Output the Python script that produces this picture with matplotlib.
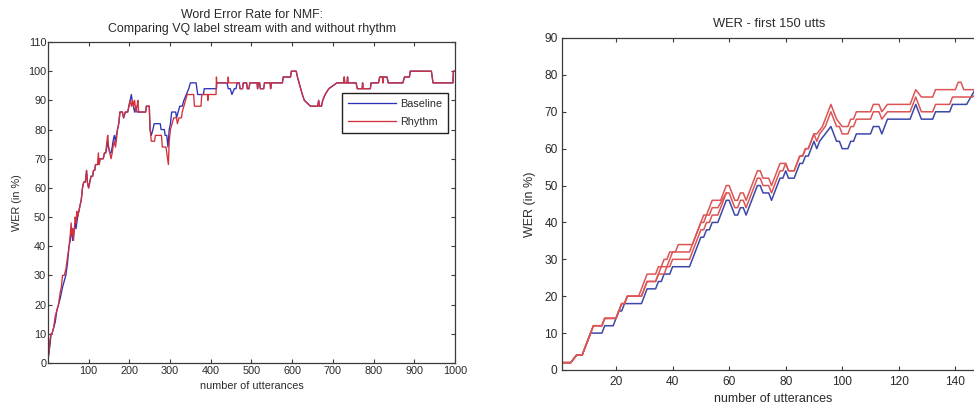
import matplotlib
matplotlib.use("Agg")
import matplotlib.pyplot as plt

plt.rcParams['font.family'] = ['Liberation Sans', 'DejaVu Sans']

# ---------------- Left panel: WER over 1000 utterances ----------------
baseline_x = [1, 3, 5, 8, 10, 14, 18, 22, 26, 30, 33, 36, 40, 44, 48, 52, 55, 57, 59, 61,
              63, 65, 67, 69, 71, 73, 76, 79, 82, 85, 88, 92, 95, 97, 100, 103, 106, 110, 112, 115,
              117, 122, 124, 126, 128, 136, 139, 142, 145, 147, 149, 152, 155, 158, 160, 163, 166, 168, 171, 174,
              177, 183, 186, 190, 196, 199, 202, 205, 207, 210, 213, 216, 219, 240, 242, 249, 251, 254, 258, 261,
              276, 278, 286, 288, 292, 295, 298, 301, 304, 314, 316, 320, 324, 330, 334, 340, 346, 350, 364, 366,
              368, 382, 384, 414, 415, 440, 443, 448, 452, 458, 462, 465]
baseline_y = [2, 4, 6, 10, 10, 12, 14, 18, 20, 22, 24, 26, 28, 30, 34, 40, 42, 46, 44, 42,
              44, 46, 48, 46, 48, 50, 52, 54, 56, 60, 62, 62, 66, 62, 60, 62, 64, 64, 66, 66,
              68, 68, 70, 68, 70, 70, 72, 72, 74, 76, 74, 72, 72, 74, 76, 78, 76, 78, 80, 82,
              86, 86, 84, 86, 86, 88, 90, 92, 90, 88, 86, 88, 86, 86, 88, 88, 80, 78, 80, 82,
              82, 80, 80, 78, 78, 74, 80, 82, 86, 86, 84, 86, 88, 88, 90, 92, 94, 96, 96, 94,
              92, 92, 94, 94, 96, 96, 94, 94, 92, 94, 94, 96]

rhythm_x = [1, 3, 5, 8, 10, 14, 18, 22, 26, 30, 33, 36, 40, 44, 48, 52, 55, 57, 59, 61,
            63, 65, 67, 69, 71, 73, 76, 79, 82, 85, 88, 92, 95, 97, 100, 103, 106, 110, 112, 115,
            117, 122, 124, 126, 128, 136, 139, 142, 145, 147, 149, 152, 155, 158, 160, 163, 166, 168, 171, 174,
            177, 183, 186, 190, 196, 199, 202, 205, 208, 210, 213, 216, 219, 221, 223, 240, 242, 249, 251, 254,
            262, 264, 279, 281, 290, 292, 294, 296, 298, 301, 305, 309, 316, 318, 322, 328, 330, 334, 338, 342,
            358, 360, 376, 378, 392, 393, 394, 413, 414, 415, 442, 443, 444, 465]
rhythm_y = [2, 4, 8, 10, 10, 12, 16, 18, 20, 24, 26, 30, 30, 32, 36, 40, 44, 48, 44, 46,
            42, 46, 50, 48, 52, 50, 52, 54, 56, 60, 62, 62, 66, 62, 60, 62, 64, 64, 66, 66,
            68, 68, 72, 68, 70, 70, 72, 72, 76, 78, 74, 72, 70, 72, 74, 76, 74, 76, 80, 82,
            86, 86, 84, 86, 86, 88, 90, 88, 90, 88, 90, 86, 88, 90, 86, 86, 88, 88, 80, 76,
            76, 78, 78, 74, 74, 72, 70, 68, 76, 80, 82, 84, 84, 82, 84, 84, 86, 88, 90, 92,
            92, 88, 88, 92, 92, 90, 92, 92, 98, 96, 96, 98, 96, 96]

# Both systems give the same WER from about utterance 470 onwards
common_x = [470, 472, 478, 480, 488, 490, 494, 496, 514, 515, 517, 520, 522, 530, 532, 546, 547, 549, 576, 578,
            596, 598, 610, 613, 617, 621, 625, 630, 645, 663, 665, 667, 672, 675, 681, 690, 710, 727, 728, 729,
            735, 736, 737, 757, 760, 772, 773, 774, 792, 794, 812, 815, 822, 823, 824, 833, 836, 872, 876, 888,
            890, 942, 946, 995, 996, 1000]
common_y = [96, 94, 94, 96, 96, 94, 94, 96, 96, 94, 96, 96, 94, 94, 96, 96, 94, 96, 96, 98,
            98, 100, 100, 98, 96, 94, 92, 90, 88, 88, 90, 88, 88, 90, 92, 94, 96, 96, 98, 96,
            96, 98, 96, 96, 94, 94, 96, 94, 94, 96, 96, 98, 98, 96, 98, 98, 96, 96, 98, 98,
            100, 100, 96, 96, 100, 100]

left_xticks = [100, 200, 300, 400, 500, 600, 700, 800, 900, 1000]
left_yticks = [0, 10, 20, 30, 40, 50, 60, 70, 80, 90, 100, 110]

# ---------------- Right panel: WER over the first 150 utterances ----------------
first_blue_x = [1, 4, 6, 8, 11, 15, 16, 19, 21, 22, 23, 29, 31, 34, 35, 36, 37, 39, 40, 46,
                50, 51, 52, 53, 54, 56, 59, 60, 62, 63, 64, 65, 66, 70, 71, 72, 74, 75, 78, 79,
                80, 81, 83, 85, 86, 87, 88, 89, 90, 91, 92, 94, 96, 98, 99, 100, 102, 103, 104, 105,
                110, 111, 113, 114, 116, 124, 126, 128, 132, 133, 138, 139, 144, 147, 150]
first_blue_y = [2, 2, 4, 4, 10, 10, 12, 12, 16, 16, 18, 18, 22, 22, 24, 24, 26, 26, 28, 28,
                36, 36, 38, 38, 40, 40, 46, 46, 42, 42, 44, 44, 42, 50, 50, 48, 48, 46, 52, 52,
                54, 52, 52, 56, 56, 58, 58, 60, 62, 60, 62, 64, 66, 62, 62, 60, 60, 62, 62, 64,
                64, 66, 66, 64, 68, 68, 72, 68, 68, 70, 70, 72, 72, 76, 78]

first_red1_x = [1, 4, 6, 8, 12, 15, 16, 20, 22, 23, 24, 29, 31, 34, 35, 37, 38, 39, 40, 46,
                50, 51, 52, 53, 54, 56, 59]
first_red1_y = [2, 2, 4, 4, 12, 12, 14, 14, 18, 18, 20, 20, 24, 24, 26, 26, 28, 28, 30, 30,
                38, 38, 40, 40, 42, 42, 48]

first_red2_x = [1, 4, 6, 8, 12, 15, 16, 20, 22, 23, 24, 29, 31, 34, 36, 38, 39, 40, 46, 50,
                51, 52, 53, 54, 56, 59, 60, 62, 63, 64, 65, 66, 70, 71, 72, 74, 75, 78, 79, 80,
                81, 83, 85, 86, 87, 88, 89, 90, 91, 92, 94, 96, 98, 99, 100, 102, 103, 104, 105, 110,
                111, 113, 114, 116, 124, 126, 128, 132, 133, 138, 139, 146, 150]
first_red2_y = [2, 2, 4, 4, 12, 12, 14, 14, 18, 18, 20, 20, 24, 24, 28, 28, 30, 32, 32, 40,
                40, 42, 42, 44, 44, 48, 48, 44, 44, 46, 46, 44, 52, 52, 50, 50, 48, 54, 54, 56,
                54, 54, 58, 58, 60, 60, 62, 64, 62, 64, 66, 70, 66, 66, 64, 64, 66, 66, 68, 68,
                70, 70, 68, 70, 70, 74, 70, 70, 72, 72, 74, 74, 76]

first_red3_x = [1, 4, 6, 8, 12, 15, 16, 20, 22, 23, 24, 28, 31, 34, 35, 36, 37, 38, 39, 41,
                42, 47, 50, 51, 52, 53, 54, 57, 59, 60, 62, 63, 64, 65, 66, 70, 71, 72, 74, 75,
                78, 80, 81, 83, 85, 86, 87, 88, 89, 90, 91, 93, 94, 96, 98, 100, 102, 103, 104, 105,
                110, 111, 113, 114, 116, 124, 126, 128, 132, 133, 140, 141, 142, 143, 150]
first_red3_y = [2, 2, 4, 4, 12, 12, 14, 14, 18, 18, 20, 20, 26, 26, 28, 28, 30, 30, 32, 32,
                34, 34, 40, 42, 42, 44, 46, 46, 50, 50, 46, 46, 48, 48, 46, 54, 54, 52, 52, 50,
                56, 56, 54, 54, 58, 58, 60, 60, 62, 64, 64, 66, 68, 72, 68, 66, 66, 68, 68, 70,
                70, 72, 72, 70, 72, 72, 76, 74, 74, 76, 76, 78, 78, 76, 76]

right_xticks = [20, 40, 60, 80, 100, 120, 140]
right_yticks = [0, 10, 20, 30, 40, 50, 60, 70, 80, 90]

BLUE = '#2c33b8'
RED = '#d2303a'
BLUE2 = '#3c47a8'
RED2 = '#dc5454'
FRAME = '#3a3a3a'
TEXT = '#2a2a2a'

W, H = 974, 405
fig = plt.figure(figsize=(W / 100, H / 100), dpi=100)


def px_axes(left, top, right, bottom):
    return fig.add_axes([left / W, 1 - bottom / H, (right - left) / W, (bottom - top) / H])


def style(ax, size, pad_x, pad_y):
    for sp in ax.spines.values():
        sp.set_color(FRAME)
        sp.set_linewidth(0.9)
    ax.tick_params(direction='in', length=3, width=0.8, color=FRAME,
                   top=True, right=True, labelsize=size, labelcolor=TEXT)
    ax.tick_params(axis='x', pad=pad_x)
    ax.tick_params(axis='y', pad=pad_y)


# Left panel
axL = px_axes(48.3, 42, 455, 363)
axL.plot(baseline_x + common_x, baseline_y + common_y, color=BLUE, lw=0.95, label='Baseline')
axL.plot(rhythm_x + common_x, rhythm_y + common_y, color=RED, lw=0.95, label='Rhythm')
axL.set_xlim(1, 1000)
axL.set_ylim(0, 110)
axL.set_xticks(left_xticks)
axL.set_yticks(left_yticks)
style(axL, 7.8, 2.4, 1.5)
axL.set_xlabel('number of utterances', fontsize=7.8, color=TEXT)
axL.xaxis.set_label_coords(0.5, -0.056)
axL.set_ylabel('WER (in %)', fontsize=7.8, color=TEXT)
axL.yaxis.set_label_coords(-0.064, 0.5)
leg = axL.legend(loc='upper right', bbox_to_anchor=(0.983, 0.841), fontsize=7.8,
                 fancybox=False, framealpha=1, edgecolor='#222222', borderaxespad=0,
                 handlelength=4.4, borderpad=0.55, labelspacing=0.75, handletextpad=0.4)
leg.get_frame().set_linewidth(1.0)
for t in leg.get_texts():
    t.set_color(TEXT)
fig.text(251.7 / W, 1 - 15 / H, 'Word Error Rate for NMF:', ha='center', va='center',
         fontsize=8.9, color=TEXT)
fig.text(251.7 / W, 1 - 29 / H, 'Comparing VQ label stream with and without rhythm',
         ha='center', va='center', fontsize=8.9, color=TEXT)

# Right panel (runs past the right edge of the figure)
axR = px_axes(562.3, 38, 983.6, 370)
axR.plot(first_blue_x, first_blue_y, color=BLUE2, lw=1.1)
axR.plot(first_red1_x, first_red1_y, color=RED2, lw=1.1)
axR.plot(first_red2_x, first_red2_y, color=RED2, lw=1.1)
axR.plot(first_red3_x, first_red3_y, color=RED2, lw=1.1)
axR.set_xlim(1, 150)
axR.set_ylim(0, 90)
axR.set_xticks(right_xticks)
axR.set_yticks(right_yticks)
style(axR, 8.6, 4.0, 3.4)
axR.set_xlabel('number of utterances', fontsize=9, color=TEXT)
axR.xaxis.set_label_coords(0.5, -0.069)
axR.set_ylabel('WER (in %)', fontsize=9, color=TEXT)
axR.yaxis.set_label_coords(-0.062, 0.5)
fig.text(769 / W, 1 - 24 / H, 'WER - first 150 utts', ha='center', va='center',
         fontsize=9.3, color=TEXT)

fig.savefig('out.png', dpi=100)
